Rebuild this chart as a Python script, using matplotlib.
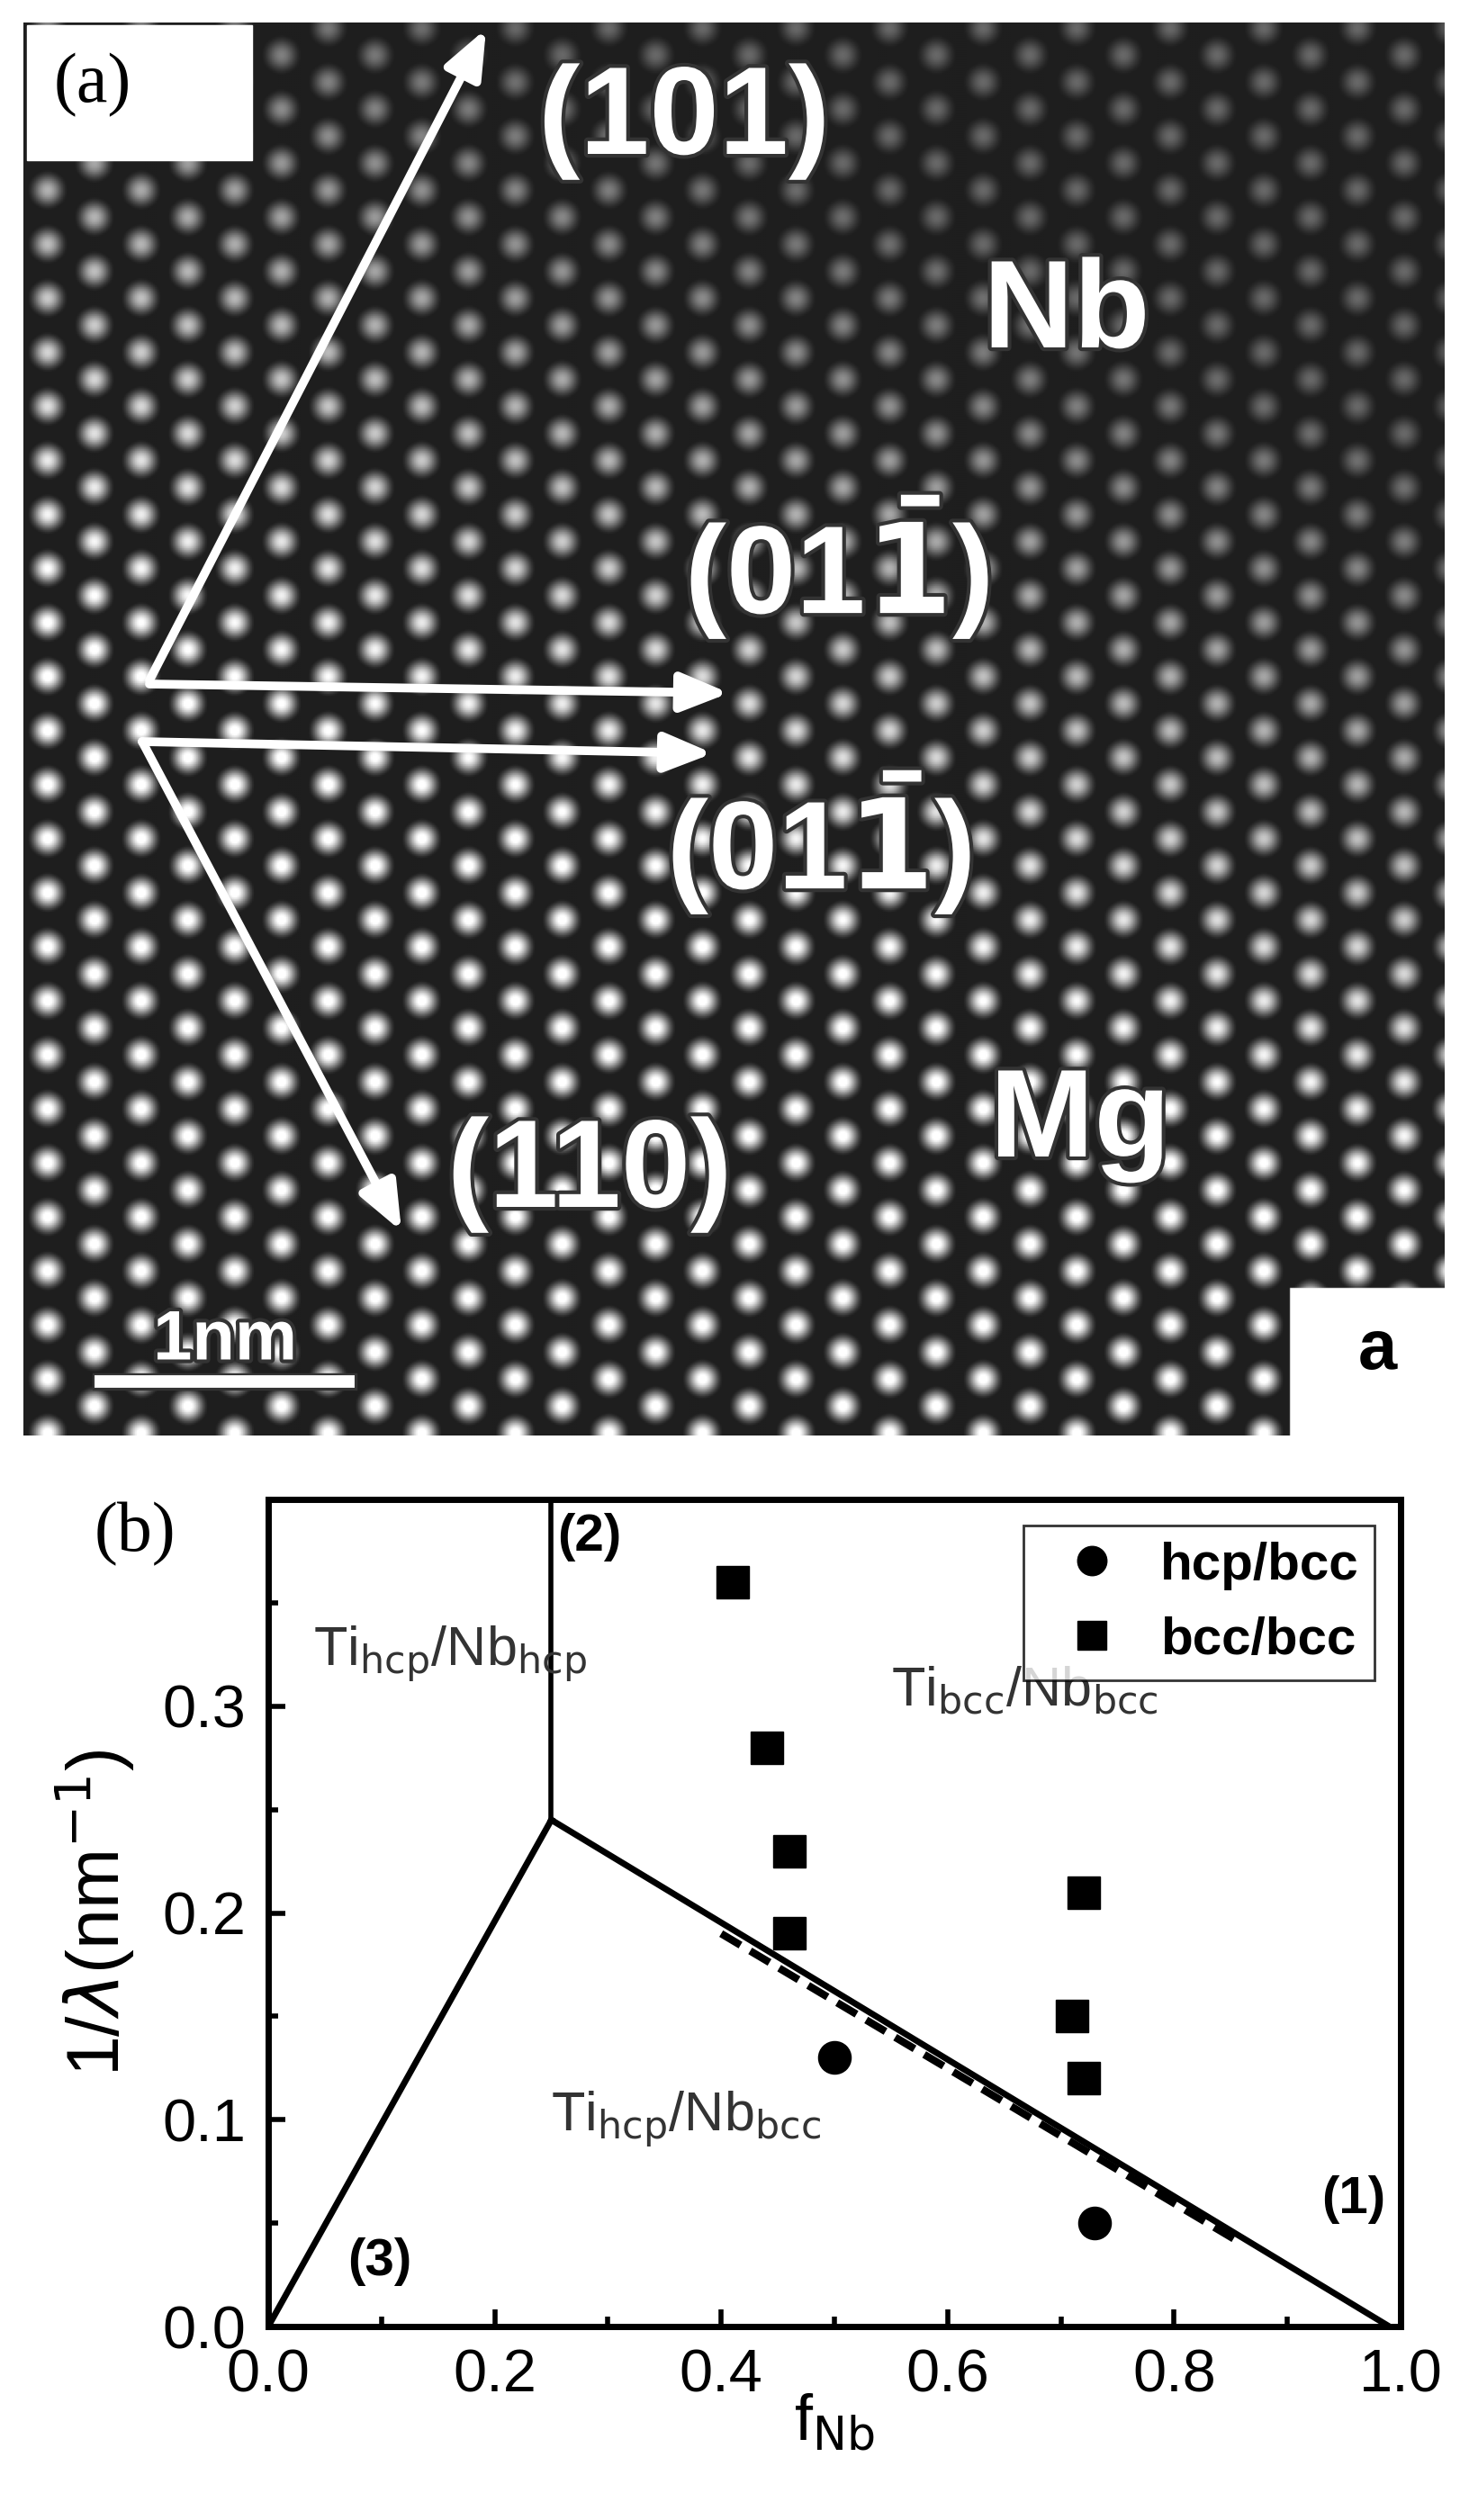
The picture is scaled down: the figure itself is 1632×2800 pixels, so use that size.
import numpy as np
import matplotlib
matplotlib.use("Agg")
import matplotlib.pyplot as plt
import matplotlib.patheffects as pe

plt.rcParams['font.family'] = ['Liberation Sans Narrow', 'Liberation Sans', 'DejaVu Sans']

# phase diagram data
sq_x = [0.41, 0.44, 0.46, 0.46, 0.72, 0.71, 0.72]
sq_y = [0.36, 0.28, 0.23, 0.19, 0.21, 0.15, 0.12]
ci_x = [0.50, 0.73]
ci_y = [0.13, 0.05]
b1_x = [0.25, 0.99]          # boundary (1)
b1_y = [0.245, 0.0]
b2_x = [0.25, 0.25]          # boundary (2)
b2_y = [0.245, 0.40]
b3_x = [0.0, 0.25]           # boundary (3)
b3_y = [0.0, 0.245]
dash_x = [0.40, 0.86]
dash_y = [0.190, 0.040]

W, H = 1633, 2800
fig = plt.figure(figsize=(W / 100, H / 100), dpi=100)

# ---- (a) micrograph (synthetic lattice) ----
axa = fig.add_axes([0, 0, 1, 1])
axa.set_xlim(0, W)
axa.set_ylim(H, 0)
axa.axis('off')
xx, yy = np.meshgrid(np.arange(26, 1605, 2), np.arange(25, 1595, 2))
a = 52.0
k = 2 * np.pi / a
lat = (np.cos(k * xx) + np.cos(k * (0.5 * xx + 0.866 * yy)) + np.cos(k * (-0.5 * xx + 0.866 * yy))) / 3
lat = np.clip(lat + 0.15, 0, 1.15) ** 1.3
bright = 0.3 + 0.7 * np.clip((yy - 200) / 900 + (900 - xx) / 2000, 0, 1)
img = 0.12 + 0.8 * lat * bright
img[(xx > 1432) & (yy > 1430)] = 1.0
axa.imshow(img, cmap='gray', vmin=0, vmax=1, extent=[26, 1605, 1595, 25], aspect='auto', zorder=0)
axa.add_patch(plt.Rectangle((30, 28), 250, 150, color='white', zorder=1))
axa.text(60, 95, '(a)', fontsize=56, family='Liberation Serif', va='center', zorder=2)

arrows = [((166, 756), (540, 32)), ((166, 760), (810, 770)),
          ((158, 824), (792, 837)), ((158, 824), (446, 1368))]
for (x0, y0), (x1, y1) in arrows:
    axa.annotate('', xy=(x1, y1), xytext=(x0, y0), zorder=3,
                 arrowprops=dict(arrowstyle='-|>,head_length=3.2,head_width=1.3', color='white',
                                 lw=7, shrinkA=0, shrinkB=0))
stroke = [pe.withStroke(linewidth=6, foreground='#333333')]
labs = [(760, 135, '(101)'), (1185, 350, 'Nb'), (930, 630, r'(01$\mathbf{\bar{1}}$)'),
        (910, 936, r'(01$\mathbf{\bar{1}}$)'), (1200, 1250, 'Mg'), (655, 1305, '(110)')]
for x, y, s in labs:
    axa.text(x, y, s, color='white', fontsize=100, fontweight='bold', family='Liberation Sans',
             ha='center', va='center', path_effects=stroke, zorder=4)
axa.text(250, 1490, '1nm', color='white', fontsize=56, fontweight='bold', family='Liberation Sans',
         ha='center', va='center', path_effects=stroke, zorder=4)
axa.plot([112, 387], [1535, 1535], color='white', lw=10, zorder=4,
         path_effects=[pe.withStroke(linewidth=14, foreground='#333333')])
axa.text(1530, 1500, 'a', fontsize=56, fontweight='bold', family='Liberation Sans',
         ha='center', va='center', zorder=4)
axa.text(150, 1705, '(b)', fontsize=56, family='Liberation Serif', ha='center', va='center')

# ---- (b) phase diagram ----
l, r, t, b = 298, 1556, 1666, 2585
ax = fig.add_axes([l / W, 1 - b / H, (r - l) / W, (b - t) / H])
ax.plot(b1_x, b1_y, 'k-', lw=5)
ax.plot(b2_x, b2_y, 'k-', lw=4)
ax.plot(b3_x, b3_y, 'k-', lw=5)
ax.plot(dash_x, dash_y, 'k--', lw=6, dashes=(3, 1.5))
ax.plot(ci_x, ci_y, 'ko', ms=26, label='hcp/bcc', ls='none')
ax.plot(sq_x, sq_y, 'ks', ms=26, label='bcc/bcc', ls='none')
ax.set_xlim(0, 1.0)
ax.set_ylim(0, 0.40)
ax.set_xticks([0, 0.2, 0.4, 0.6, 0.8, 1.0])
ax.set_xticks(np.arange(0.1, 1.0, 0.2), minor=True)
ax.set_yticks([0, 0.1, 0.2, 0.3])
ax.set_yticks([0.05, 0.15, 0.25, 0.35], minor=True)
ax.set_xticklabels(['0.0', '0.2', '0.4', '0.6', '0.8', '1.0'])
ax.set_yticklabels(['0.0', '0.1', '0.2', '0.3'])
ax.tick_params(which='both', direction='in', width=4, labelsize=48, pad=18)
ax.tick_params(which='major', length=14)
ax.tick_params(which='minor', length=8)
for s in ax.spines.values():
    s.set_linewidth(5)
ax.set_xlabel(r'f$_{\mathrm{Nb}}$', fontsize=52, labelpad=-10)
ax.set_ylabel(r'1/$\lambda$(nm$^{-1}$)', fontsize=58, labelpad=20)
leg = ax.legend(loc='upper right', prop={'weight': 'bold', 'size': 42,
                'family': 'Liberation Sans'}, fancybox=False, edgecolor='k',
                handletextpad=0.3, borderpad=0.3, markerscale=0.9)
leg.get_frame().set_linewidth(2)
kw = dict(fontsize=44, color='#333333')
ax.text(0.04, 0.32, r'Ti$_{\mathrm{hcp}}$/Nb$_{\mathrm{hcp}}$', **kw)
ax.text(0.55, 0.30, r'Ti$_{\mathrm{bcc}}$/Nb$_{\mathrm{bcc}}$', **kw)
ax.text(0.25, 0.095, r'Ti$_{\mathrm{hcp}}$/Nb$_{\mathrm{bcc}}$', **kw)
bk = dict(fontsize=42, fontweight='bold', family='Liberation Sans')
ax.text(0.255, 0.375, '(2)', **bk)
ax.text(0.93, 0.055, '(1)', **bk)
ax.text(0.07, 0.025, '(3)', **bk)

fig.savefig('out.png', dpi=100)
